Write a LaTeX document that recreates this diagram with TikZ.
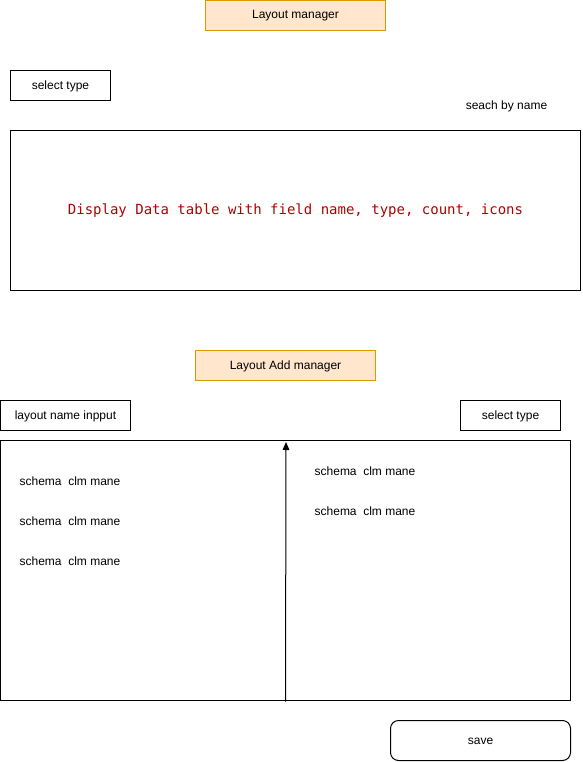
\documentclass[tikz,border=0pt]{standalone}
\usepackage{fontspec}
\setmainfont{Liberation Sans}
\newfontfamily\monofont{DejaVu Sans Mono}
\usetikzlibrary{arrows.meta}
\definecolor{orfill}{HTML}{FFE6CC}
\definecolor{ordraw}{HTML}{D79B00}
\definecolor{redtext}{HTML}{B20000}
\begin{document}
\begin{tikzpicture}[x=0.75pt,y=-0.75pt,
  every node/.style={font=\fontsize{9}{11}\selectfont, inner sep=0pt, yshift=-0.75pt},
  box/.style={draw=black, line width=0.75pt},
  orbox/.style={draw=ordraw, fill=orfill, line width=0.75pt}]
\useasboundingbox (0,0) rectangle (582,762);
% Top header
\draw[orbox] (205.5,0.5) rectangle (385.5,30.5);
\node (lm) at (295.5,15) {Layout manager};
\draw[box] (10.5,70.5) rectangle (110.5,100.5);
\node (st1) at (60.5,85.5) {select type};
\node (sbn) at (506.5,105) {seach by name};
\draw[box] (10.5,130.5) rectangle (580.5,290.5);
\node[text=redtext, font=\monofont\fontsize{10.5}{12}\selectfont] (dd) at (295.5,210) {Display Data table with field name, type, count, icons};
% Add manager
\draw[orbox] (195.5,350.5) rectangle (375.5,380.5);
\node (lam) at (285.5,365) {Layout Add manager};
\draw[box] (0.5,400.5) rectangle (130.5,430.5);
\node (lni) at (65.5,415) {layout name inpput};
\draw[box] (460.5,400.5) rectangle (560.5,430.5);
\node (st2) at (510.5,415) {select type};
\draw[box] (0.5,440.5) rectangle (570.5,700.5);
\node (l1) at (70,480) {schema\ \ clm mane};
\node (l2) at (70,520) {schema\ \ clm mane};
\node (l3) at (70,560) {schema\ \ clm mane};
\node (r1) at (365,470) {schema\ \ clm mane};
\node (r2) at (365,510) {schema\ \ clm mane};
\coordinate (abot) at (285.5,700.5);
\coordinate (atop) at (286,441);
\draw[line width=0.75pt, -{Triangle[length=6pt,width=5pt]}] (abot) -- (atop);
\draw[box, rounded corners=6pt] (390.5,720.5) rectangle (570.5,760.5);
\node (save) at (480.5,740.5) {save};
\end{tikzpicture}
\end{document}
